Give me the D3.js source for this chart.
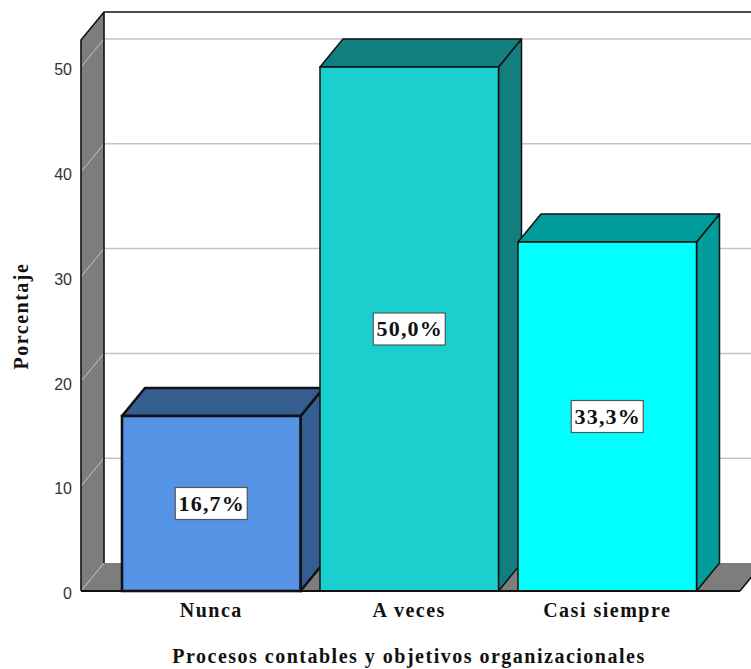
<!DOCTYPE html>
<html>
<head>
<meta charset="utf-8">
<script src="https://cdn.jsdelivr.net/npm/d3@7"></script>
<style>
  html, body { margin: 0; padding: 0; background: #fff; }
  svg { display: block; }
</style>
</head>
<body>
<svg id="chart" width="751" height="669"></svg>
<script>
const categories = ["Nunca", "A veces", "Casi siempre"];
const percentages = [16.7, 50.0, 33.3];
const valueLabels = ["16,7%", "50,0%", "33,3%"];
const yTicks = [0, 10, 20, 30, 40, 50];
const frontColors = ["#5594e5", "#1ccfcf", "#00ffff"];
const shadeColors = ["#345e90", "#137e7e", "#009c9c"];
const yTitle = "Porcentaje";
const xTitle = "Procesos contables y objetivos organizacionales";

const svg = d3.select("#chart");
const width = 751;

// 3D offset of the chart box
const depthX = 23, depthY = -28;
const left = 81, baseY = 591, topY = 40, floorEnd = 740;

const y = d3.scaleLinear().domain([0, 50]).range([baseY, 67]);
const x = d3.scaleBand().domain(categories).range([122, 696.5])
  .paddingInner(0.0985).paddingOuter(0);

const serif = "'Liberation Serif', serif";
const sans = "'Liberation Sans', Arial, sans-serif";
const wallGray = "#7d7d7d";
const poly = pts => pts.map(p => p.join(",")).join(" ");

// Side wall
svg.append("polygon")
  .attr("points", poly([[left, topY], [left + depthX, topY + depthY],
    [left + depthX, baseY + depthY], [left, baseY]]))
  .attr("fill", wallGray);

// Floor
svg.append("polygon")
  .attr("points", poly([[left, baseY], [left + depthX, baseY + depthY],
    [floorEnd + depthX, baseY + depthY], [floorEnd, baseY]]))
  .attr("fill", wallGray);

// Gridlines wrap from the side wall onto the back wall
const grid = svg.append("g").attr("fill", "none").attr("stroke", "#c4c4c4");
grid.selectAll("line.back").data(yTicks.slice(1)).join("line")
  .attr("class", "back")
  .attr("x1", left + depthX).attr("x2", width)
  .attr("y1", d => y(d) + depthY).attr("y2", d => y(d) + depthY)
  .attr("stroke-width", 1.5);
grid.selectAll("line.side").data(yTicks).join("line")
  .attr("class", "side")
  .attr("x1", left).attr("x2", left + depthX)
  .attr("y1", d => y(d)).attr("y2", d => y(d) + depthY)
  .attr("stroke-width", 1);

// Box outline
const frame = svg.append("g").attr("stroke", "#111").attr("fill", "none");
frame.append("path").attr("stroke-width", 1.6)
  .attr("d", `M${left},${baseY}V${topY}L${left + depthX},${topY + depthY}H${width}`);
frame.append("path").attr("stroke-width", 1.6)
  .attr("d", `M${left + depthX},${topY + depthY}V${baseY + depthY}`);
frame.append("path").attr("stroke-width", 1.6)
  .attr("d", `M${floorEnd},${baseY}L${floorEnd + depthX},${baseY + depthY}`);

// Y axis numbers
svg.append("g").selectAll("text").data(yTicks).join("text")
  .attr("x", 72).attr("y", d => y(d) + 2.5).attr("dy", "0.36em")
  .attr("text-anchor", "end")
  .attr("font-family", sans).attr("font-size", 16).attr("fill", "#333")
  .text(d => d);

// Bars: top and side faces first, front face over them, left to right
const bars = svg.append("g").selectAll("g").data(categories).join("g");
bars.each(function (cat, i) {
  const g = d3.select(this);
  const x0 = x(cat), x1 = x0 + x.bandwidth();
  const yTop = y(percentages[i]);
  const sw = i === 0 ? 2.6 : 1.5;
  g.append("polygon")
    .attr("points", poly([[x1, yTop], [x1 + depthX, yTop + depthY],
      [x1 + depthX, baseY + depthY], [x1, baseY]]))
    .attr("fill", shadeColors[i]).attr("stroke", "#111").attr("stroke-width", sw)
    .attr("stroke-linejoin", "round");
  g.append("polygon")
    .attr("points", poly([[x0, yTop], [x0 + depthX, yTop + depthY],
      [x1 + depthX, yTop + depthY], [x1, yTop]]))
    .attr("fill", shadeColors[i]).attr("stroke", "#111").attr("stroke-width", sw)
    .attr("stroke-linejoin", "round");
  g.append("rect")
    .attr("x", x0).attr("y", yTop)
    .attr("width", x.bandwidth()).attr("height", baseY - yTop)
    .attr("fill", frontColors[i]).attr("stroke", "#111").attr("stroke-width", sw);
});

// Baseline across the floor front
svg.append("line")
  .attr("x1", left).attr("x2", floorEnd)
  .attr("y1", baseY).attr("y2", baseY)
  .attr("stroke", "#111").attr("stroke-width", 2);

// Boxed value labels at the middle of each bar
const labels = svg.append("g").selectAll("g").data(categories).join("g")
  .attr("transform", (c, i) =>
    `translate(${x(c) + x.bandwidth() / 2},${y(percentages[i] / 2)})`);
labels.append("rect")
  .attr("x", -36).attr("y", -16).attr("width", 72).attr("height", 32)
  .attr("fill", "#fff").attr("stroke", "#555").attr("stroke-width", 1.2);
labels.append("text")
  .attr("text-anchor", "middle").attr("dx", 0.5).attr("dy", "0.34em")
  .attr("font-family", serif).attr("font-weight", "bold")
  .attr("font-size", 22).attr("letter-spacing", 1.2).attr("fill", "#111")
  .text((c, i) => valueLabels[i]);

// Category names
svg.append("g").selectAll("text").data(categories).join("text")
  .attr("x", c => x(c) + x.bandwidth() / 2).attr("y", 617)
  .attr("text-anchor", "middle")
  .attr("font-family", serif).attr("font-weight", "bold")
  .attr("font-size", 20).attr("letter-spacing", 1.5).attr("fill", "#111")
  .text(c => c);

// Axis titles
svg.append("text")
  .attr("x", 409).attr("y", 663).attr("text-anchor", "middle")
  .attr("font-family", serif).attr("font-weight", "bold")
  .attr("font-size", 20).attr("letter-spacing", 1.5).attr("fill", "#111")
  .text(xTitle);
svg.append("text")
  .attr("transform", "translate(28,316) rotate(-90)").attr("text-anchor", "middle")
  .attr("font-family", serif).attr("font-weight", "bold")
  .attr("font-size", 20).attr("letter-spacing", 1.5).attr("fill", "#111")
  .text(yTitle);
</script>
</body>
</html>
